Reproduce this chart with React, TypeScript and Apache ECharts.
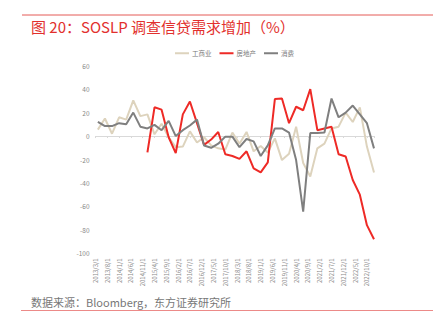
import React, { useEffect, useRef } from "react";
import * as echarts from "echarts";

const dates = [
  "2013/4/1", "2013/7/1", "2013/10/1",
  "2014/1/1", "2014/4/1", "2014/7/1", "2014/10/1",
  "2015/1/1", "2015/4/1", "2015/7/1", "2015/10/1",
  "2016/1/1", "2016/4/1", "2016/7/1", "2016/10/1",
  "2017/1/1", "2017/4/1", "2017/7/1", "2017/10/1",
  "2018/1/1", "2018/4/1", "2018/7/1", "2018/10/1",
  "2019/1/1", "2019/4/1", "2019/7/1", "2019/10/1",
  "2020/1/1", "2020/4/1", "2020/7/1", "2020/10/1",
  "2021/1/1", "2021/4/1", "2021/7/1", "2021/10/1",
  "2022/1/1", "2022/4/1", "2022/7/1", "2022/10/1",
  "2023/1/1",
];

const industrial = [
  5.5, 15, 2, 16, 14, 30.5, 17, 18.5, 1.5, 10.5,
  -1, -9.5, -9, 4, -5.5, -1, -8, -10.5, -11.5, 3,
  -6.5, 3.5, -13, -8.5, -14, -2, -20.5, -15, 8, -23,
  -34.5, -10.5, -6.5, 6.5, 8, 20, 12, 24.5, -9, -31,
];

const realEstate: (number | null)[] = [
  null, null, null, null, null, null, null, -14, 24.5, 22.5,
  -1, -14.5, 18.5, 29.5, 11, -7.5, -3, 3.5, -15.5, -17,
  -19.5, -13, -27.5, -31, -22.5, 31.5, 32, 11, 25, 22,
  40, 5, 6.5, 8, -15.5, -17.5, -37.5, -50, -76, -88,
];

const consumer = [
  12, 8.5, 8.5, 11, 10, 20, 8, 6.5, 9.5, 5,
  13, 0, 5, 9, 14, -8, -10, -6.5, -0.5, -0.5,
  -9.5, -2.5, -4.5, -17, -8, 6.5, 6.5, 3, -20.5, -64.5,
  2.5, 2.5, 3, 32, 16, 20, 26, 18.5, 11, -10.5,
];

const seriesNames = ["工商业", "房地产", "消费"];
const seriesColors = ["#ddd3bd", "#ee2a26", "#7f7f7f"];
const yTicks = { min: -100, max: 60, interval: 20 };
const axisStart = "2013/3/1";
const axisEnd = "2023/1/1";
const labelStepMonths = 5;

const title = "图 20：SOSLP 调查信贷需求增加（%）";
const source = "数据来源：Bloomberg，东方证券研究所";

function monthIndex(d: string): number {
  const [y, m] = d.split("/").map(Number);
  const [y0, m0] = axisStart.split("/").map(Number);
  return (y - y0) * 12 + (m - m0);
}

function indexLabel(idx: number): string {
  const [y0, m0] = axisStart.split("/").map(Number);
  const total = (m0 - 1) + idx;
  const y = y0 + Math.floor(total / 12);
  const m = (total % 12) + 1;
  return `${y}/${m}/1`;
}

function pairs(vals: (number | null)[]) {
  return vals
    .map((v, i) => [monthIndex(dates[i]), v] as [number, number | null])
    .filter((p) => p[1] !== null);
}

export default function App() {
  const ref = useRef<HTMLDivElement>(null);
  useEffect(() => {
    if (!ref.current) return;
    const chart = echarts.init(ref.current, undefined, { renderer: "svg" });
    const xMax = monthIndex(axisEnd);
    const font = "'Noto Sans CJK SC', 'Noto Sans', sans-serif";
    chart.setOption({
      animation: false,
      textStyle: { fontFamily: font },
      grid: { left: 95.5, right: 443 - 374, top: 65.7, bottom: 336 - 253.3, containLabel: false },
      legend: {
        data: seriesNames,
        left: 170,
        top: 45,
        itemWidth: 14,
        itemHeight: 2,
        itemGap: 8,
        icon: "rect",
        textStyle: { fontSize: 6.5, color: "#777", fontFamily: font, padding: [0, 0, 0, -2] },
      },
      xAxis: [
        {
          type: "value",
          min: 0,
          max: xMax,
          interval: labelStepMonths,
          position: "bottom",
          axisLine: { show: false, onZero: false },
          axisTick: { show: false },
          splitLine: { show: false },
          axisLabel: {
            rotate: 90,
            fontSize: 6,
            color: "#888",
            margin: 5,
            showMaxLabel: false,
            formatter: (v: number) => (v % labelStepMonths === 0 ? indexLabel(v) : ""),
          },
        },
        {
          type: "value",
          min: 0,
          max: xMax,
          interval: labelStepMonths,
          position: "bottom",
          axisLine: { show: true, onZero: true, lineStyle: { color: "#d9d9d9", width: 1 } },
          axisTick: { show: true, length: 2, lineStyle: { color: "#d9d9d9" } },
          splitLine: { show: false },
          axisLabel: { show: false },
        },
      ],
      yAxis: {
        type: "value",
        min: yTicks.min,
        max: yTicks.max,
        interval: yTicks.interval,
        axisLine: { show: false },
        axisTick: { show: false },
        splitLine: { show: false },
        axisLabel: { fontSize: 6.5, color: "#888", margin: 6 },
      },
      series: [industrial, realEstate, consumer].map((vals, k) => ({
        name: seriesNames[k],
        type: "line",
        xAxisIndex: 0,
        data: pairs(vals),
        symbol: "none",
        color: seriesColors[k],
        lineStyle: { width: 2, color: seriesColors[k] },
      })),
      graphic: [
        {
          type: "line",
          shape: { x1: 22, y1: 15, x2: 433, y2: 15 },
          style: { stroke: "#e45a57", lineWidth: 1 },
        },
        {
          type: "text",
          x: 31,
          y: 26,
          style: {
            text: title,
            fill: "#e2302d",
            fontSize: 15,
            fontFamily: font,
            verticalAlign: "middle",
          },
        },
        {
          type: "text",
          x: 31,
          y: 302,
          style: {
            text: source,
            fill: "#777",
            fontSize: 11,
            fontFamily: font,
            verticalAlign: "middle",
          },
        },
        {
          type: "line",
          shape: { x1: 21, y1: 310.5, x2: 433, y2: 310.5 },
          style: { stroke: "#ec8a88", lineWidth: 1 },
        },
      ],
    });
    return () => chart.dispose();
  }, []);
  return (
    <div
      ref={ref}
      style={{ position: "fixed", left: 0, top: 0, width: 443, height: 336, background: "#fff" }}
    />
  );
}
